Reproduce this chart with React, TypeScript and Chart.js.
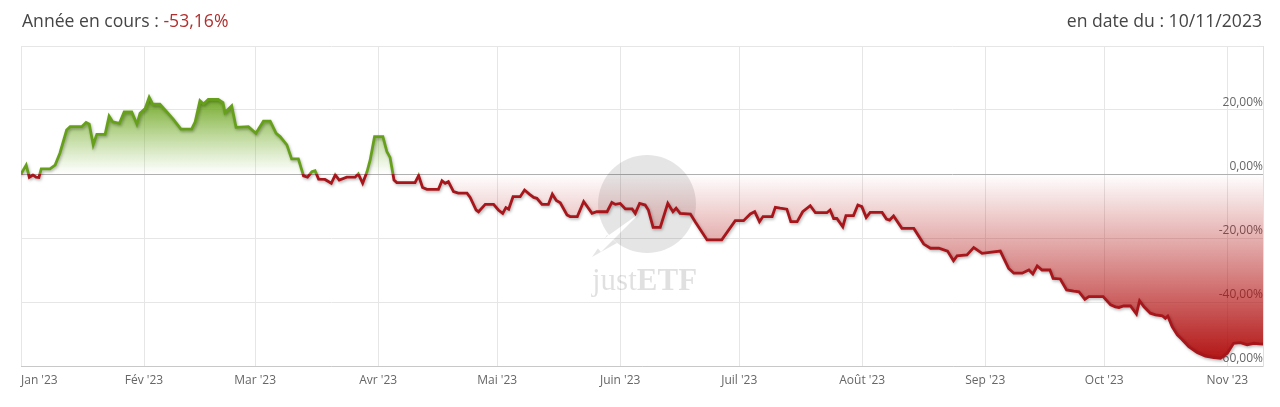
import React, { useEffect, useRef } from 'react';
import { Chart, registerables } from 'chart.js';

Chart.register(...registerables);

// Day of year (0 = 1 Jan 2023) for each point
const days = [
  0, 1.3, 2.1, 3, 3.8, 4.5, 5.1, 7.3, 8.6, 9.8,
  11.5, 12.4, 15.3, 16.4, 17.2, 18.2, 19.1, 21.2, 22.2, 23.1,
  24.8, 26, 27.9, 29.2, 30, 31.3, 32.3, 33.2, 35, 36.7,
  38.4, 40.3, 43, 43.9, 45.1, 46, 47.2, 49.7, 50.9, 51.4,
  53.1, 54.2, 57.3, 59.2, 61.1, 62.8, 64.3, 65.3, 67, 68.2,
  69.9, 71.2, 72.2, 73.3, 74.1, 75, 76.6, 78.2, 79.2, 80.2,
  82.1, 84.2, 85, 86.1, 87.2, 88, 89.1, 91.2, 92.2, 93,
  94, 94.7, 99.3, 100.2, 101.2, 102.3, 105.2, 106.1, 106.9, 107.7,
  109, 110.2, 112.4, 113.2, 114.7, 115.3, 117, 119.1, 120.3, 121.4,
  122.2, 122.9, 124, 125.8, 126.9, 128.1, 129.2, 130, 131.3, 132.9,
  133.9, 134.9, 135.9, 137.6, 138.4, 140.2, 141.8, 143.9, 145.1, 147.7,
  148.9, 149.8, 151, 152.3, 154, 154.8, 155.9, 157.3, 158.1, 159.3,
  161.1, 163, 164.3, 165.1, 166.1, 168.7, 169.9, 172.9, 176.6, 180,
  182.1, 183.8, 184.9, 186.1, 187, 189.3, 190.1, 191.3, 193, 194,
  195.6, 197, 198.9, 200.2, 203.1, 203.9, 204.8, 205.6, 207.1, 207.9,
  209.8, 210.9, 211.9, 213, 214, 217, 218.1, 218.9, 219.9, 222,
  225, 227.5, 229.2, 231.3, 233.5, 235, 235.9, 238.4, 240.1, 242.2,
  246.8, 247.8, 248.9, 250.2, 252.3, 254, 255, 256.1, 257.3, 259.3,
  260.1, 261.9, 263.5, 265.3, 266.6, 268.1, 269.1, 272.7, 274.6, 275.8,
  276.7, 277.9, 279.6, 281.1, 281.9, 283, 284.6, 285.9, 287.6, 288.4,
  289, 290.1, 291.4, 292.6, 294.3, 296.4, 298.5, 300.6, 302.3, 304,
  305.6, 307.3, 309, 310.7, 312, 313,
];

// Performance since 1 Jan (%)
const performance = [
  0, 2.8, -1, -0.3, -1, -1.1, 1.6, 1.6, 2.8, 6.5,
  13.75, 14.8, 14.8, 16.1, 15.6, 9.1, 12.4, 12.4, 18.1, 16.3,
  15.8, 19.4, 19.4, 15.6, 19, 20.5, 24, 21.8, 21.8, 19.5,
  17.1, 14, 14, 16.3, 22.9, 21.9, 23.3, 23.3, 22.3, 19.2,
  21.3, 14.6, 14.8, 12.7, 16.5, 16.5, 12.7, 11.7, 9.1, 4.7,
  4.7, -0.6, -1, 0.7, 1, -1.6, -1.7, -2.9, -0.3, -1.9,
  -1, -1, 0, -2.9, 0.7, 4.4, 11.7, 11.7, 7, 5.2,
  -1.9, -2.7, -2.7, -0.5, -4.2, -4.8, -4.8, -2.1, -2.9, -2.4,
  -5.5, -6, -6, -7.3, -11.25, -11.8, -9.5, -9.5, -11.25, -12.3,
  -10.5, -11, -7.1, -7.1, -5, -6.3, -7.3, -7.6, -9.5, -9.5,
  -6.3, -8.3, -9, -12.8, -13.3, -13.3, -8.6, -12.3, -11.8, -11.8,
  -8.9, -9.5, -9.2, -10.9, -10.9, -12.3, -9.2, -9.7, -11.25, -16.7,
  -16.7, -9.2, -11.8, -10.7, -12.3, -12.5, -14.9, -20.6, -20.6, -14.6,
  -14.6, -12.5, -11.8, -14.9, -13.3, -13.3, -10.4, -10.7, -11, -14.9,
  -14.9, -11.8, -9.9, -12.1, -12.1, -11.25, -13.9, -13.9, -16.5, -13,
  -13, -9.7, -10.2, -13.6, -12, -12, -14.1, -14.4, -13.1, -17,
  -17, -21.9, -23.2, -23.2, -24.1, -27.1, -25.6, -25.3, -23, -24.8,
  -24.1, -26.7, -29.5, -31, -31, -30, -31.25, -28.75, -30, -30,
  -32.6, -32.8, -36.25, -36.6, -36.8, -39.2, -38.3, -38.3, -40.9, -41.5,
  -41.7, -41.25, -41.25, -43.75, -39.6, -41.5, -43.5, -44, -44.3, -45.1,
  -44.4, -47.7, -50.3, -51.7, -54, -55.8, -56.9, -57.4, -57.6, -56,
  -52.9, -52.7, -53.4, -52.9, -53.1, -53.16,
];

const monthTicks = [0, 31, 59, 90, 120, 151, 181, 212, 243, 273, 304];
const monthLabels = [
  "Jan '23", "Fév '23", "Mar '23", "Avr '23", "Mai '23", "Juin '23",
  "Juil '23", "Août '23", "Sep '23", "Oct '23", "Nov '23",
];
const yTicks = [-60, -40, -20, 0, 20, 40];
const xMin = 0;
const xMax = 313;
const yMin = -60;
const yMax = 40;

const GREEN = '#66a01b';
const RED = '#a8151a';

const fmtPct = (v: number) => v.toFixed(2).replace('.', ',') + '%';

export default function App() {
  const ref = useRef<HTMLCanvasElement>(null);

  useEffect(() => {
    const canvas = ref.current;
    if (!canvas) return;

    const zeroFrac = (chart: any) => {
      const a = chart.chartArea;
      return (chart.scales.y.getPixelForValue(0) - a.top) / (a.bottom - a.top);
    };

    const watermark = {
      id: 'watermark',
      beforeDatasetsDraw(chart: any) {
        const ctx = chart.ctx as CanvasRenderingContext2D;
        const a = chart.chartArea;
        const cx = (a.left + a.right) / 2 + 5;
        const cy = a.top + 158;
        ctx.save();
        ctx.beginPath();
        ctx.rect(0, 0, chart.width, chart.height);
        ctx.moveTo(cx - 7, cy + 9);
        ctx.lineTo(cx - 52, cy + 41);
        ctx.lineTo(cx - 46, cy + 48);
        ctx.closePath();
        ctx.clip('evenodd');
        ctx.fillStyle = 'rgba(0,0,0,0.1)';
        ctx.beginPath();
        ctx.arc(cx, cy, 49, 0, Math.PI * 2);
        ctx.fill();
        ctx.beginPath();
        ctx.moveTo(cx - 30, cy + 39);
        ctx.lineTo(cx - 55, cy + 53);
        ctx.lineTo(cx - 40, cy + 31);
        ctx.closePath();
        ctx.fill();
        ctx.restore();

        ctx.save();
        ctx.fillStyle = 'rgba(0,0,0,0.12)';
        ctx.textBaseline = 'alphabetic';
        ctx.textAlign = 'left';
        const tx = cx - 55;
        const ty = cy + 86;
        ctx.font = '31px "Liberation Serif"';
        ctx.fillText('just', tx, ty);
        const w = ctx.measureText('just').width;
        ctx.font = 'bold 31px "Liberation Serif"';
        ctx.fillText('ETF', tx + w, ty);
        ctx.restore();
      },
    };

    const lineShadow = {
      id: 'lineShadow',
      beforeDatasetDraw(chart: any) {
        const ctx = chart.ctx as CanvasRenderingContext2D;
        ctx.save();
        ctx.shadowColor = 'rgba(0,0,0,0.3)';
        ctx.shadowBlur = 3;
        ctx.shadowOffsetX = 1;
        ctx.shadowOffsetY = 1.5;
      },
      afterDatasetDraw(chart: any) {
        chart.ctx.restore();
      },
    };

    const xLabels = {
      id: 'xLabels',
      afterDraw(chart: any) {
        const ctx = chart.ctx as CanvasRenderingContext2D;
        const a = chart.chartArea;
        const xs = chart.scales.x;
        ctx.save();
        ctx.font = '12px "Open Sans"';
        ctx.fillStyle = '#666666';
        ctx.textBaseline = 'middle';
        monthTicks.forEach((v, i) => {
          ctx.textAlign = i === 0 ? 'left' : 'center';
          ctx.fillText(monthLabels[i], xs.getPixelForValue(v), a.bottom + 15);
        });
        ctx.restore();
      },
    };

    const chart = new Chart(canvas, {
      type: 'line',
      data: {
        datasets: [
          {
            data: days.map((d, i) => ({ x: d, y: performance[i] })),
            borderWidth: 2.8,
            pointRadius: 0,
            tension: 0,
            fill: 'origin',
            borderColor: (c: any) => {
              const chart = c.chart;
              const a = chart.chartArea;
              if (!a) return GREEN;
              const f = Math.min(Math.max(zeroFrac(chart), 0), 1);
              const g = chart.ctx.createLinearGradient(0, a.top, 0, a.bottom);
              g.addColorStop(0, GREEN);
              g.addColorStop(f, GREEN);
              g.addColorStop(f, RED);
              g.addColorStop(1, RED);
              return g;
            },
            backgroundColor: (c: any) => {
              const chart = c.chart;
              const a = chart.chartArea;
              if (!a) return 'transparent';
              const f = zeroFrac(chart);
              const fTop = (chart.scales.y.getPixelForValue(24) - a.top) / (a.bottom - a.top);
              const g = chart.ctx.createLinearGradient(0, a.top, 0, a.bottom);
              g.addColorStop(0, 'rgba(100,158,22,1)');
              g.addColorStop(fTop, 'rgba(104,162,26,0.95)');
              g.addColorStop(f, 'rgba(130,185,60,0)');
              g.addColorStop(f, 'rgba(180,20,20,0)');
              g.addColorStop(1, 'rgba(176,12,12,1)');
              return g;
            },
          },
        ],
      },
      options: {
        animation: false,
        responsive: false,
        devicePixelRatio: 1,
        layout: { padding: { left: 13, right: 9, top: 16, bottom: 34 } },
        plugins: {
          legend: { display: false },
          tooltip: { enabled: false },
        },
        scales: {
          x: {
            type: 'linear',
            min: xMin,
            max: xMax,
            afterBuildTicks: (s: any) => {
              s.ticks = monthTicks.map((v) => ({ value: v }));
            },
            ticks: { display: false },
            grid: { color: '#e6e6e6', drawTicks: false, lineWidth: 1 },
            border: { display: true, color: '#c8c8c8', width: 1 },
          },
          y: {
            position: 'right',
            min: yMin,
            max: yMax,
            afterBuildTicks: (s: any) => {
              s.ticks = yTicks.map((v) => ({ value: v }));
            },
            ticks: {
              mirror: true,
              padding: 0,
              labelOffset: -7,
              color: '#666666',
              font: { family: 'Open Sans', size: 12 },
              callback: (v: any) => (Number(v) === yMax ? '' : fmtPct(Number(v))),
            },
            grid: {
              drawTicks: false,
              color: (c: any) => (c.tick && c.tick.value === 0 ? '#b0b0b0' : '#e6e6e6'),
            },
            border: { display: true, color: '#e0e0e0' },
          },
        },
      },
      plugins: [watermark, lineShadow, xLabels],
    });

    return () => chart.destroy();
  }, []);

  return (
    <div style={{ width: 1264 }}>
      <div
        style={{
          display: 'flex',
          justifyContent: 'space-between',
          height: 22,
          lineHeight: '22px',
          fontFamily: '"Open Sans"',
          fontSize: 17.6,
          color: '#454545',
          paddingLeft: 14,
          paddingRight: 10,
          boxSizing: 'border-box',
          whiteSpace: 'nowrap',
        }}
      >
        <span style={{ position: 'relative', top: 1 }}>
          Année en cours : <span style={{ color: '#b0302f' }}>-53,16%</span>
        </span>
        <span style={{ position: 'relative', top: 1 }}>en date du : 10/11/2023</span>
      </div>
      <canvas ref={ref} width={1264} height={370} style={{ display: 'block' }} />
    </div>
  );
}
